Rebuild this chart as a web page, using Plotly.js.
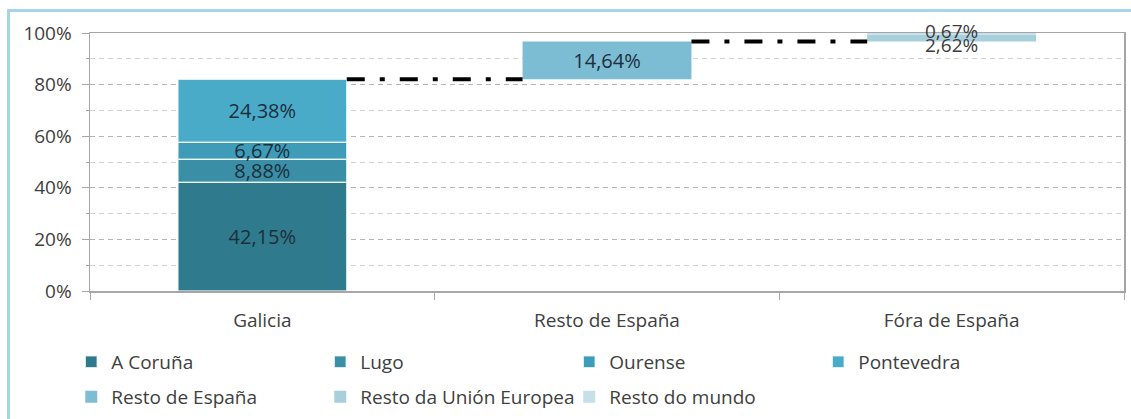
<!DOCTYPE html>
<html>
<head>
<meta charset="utf-8">
<script src="https://cdn.plot.ly/plotly-3.0.1.min.js"></script>
<style>
  html, body { margin: 0; padding: 0; background: #ffffff; }
  #frame { position: absolute; left: 7px; top: 9px; width: 1300px; height: 600px;
           border: 3px solid #a6d6e6; box-sizing: border-box; }
  #chart { position: absolute; left: 0; top: 0; width: 1131px; height: 419px; }
</style>
</head>
<body>
<div id="frame"></div>
<div id="chart"></div>
<script>
// ---- data ----
const categories = ['Galicia', 'Resto de España', 'Fóra de España'];
const seriesNames = ['A Coruña', 'Lugo', 'Ourense', 'Pontevedra',
                     'Resto de España', 'Resto da Unión Europea', 'Resto do mundo'];
const aCoruna      = [42.15, null, null];
const lugo         = [8.88, null, null];
const ourense      = [6.67, null, null];
const pontevedra   = [24.38, null, null];
const restoEspana  = [null, 14.64, null];
const restoUE      = [null, null, 2.62];
const restoMundo   = [null, null, 0.67];
const seriesValues = [aCoruna, lugo, ourense, pontevedra, restoEspana, restoUE, restoMundo];
const yTickVals = [0, 20, 40, 60, 80, 100];
const yTickText = ['0%', '20%', '40%', '60%', '80%', '100%'];

// ---- style ----
const colors = ['#2f7a8c', '#3a8ea6', '#3f9cb8', '#4aabc9', '#7dbdd3', '#a7cfdc', '#c6dfe8'];
const FONT = '"Open Sans", "Noto Sans", sans-serif';
const BAR_W = 0.49;
const fmt = v => v.toFixed(2).replace('.', ',') + '%';

// running bases (waterfall)
let running = 0;
const traces = [];
const annotations = [];
const catTotals = [];   // cumulative top after each category
seriesValues.forEach((vals, i) => {
  const base = vals.map(v => v == null ? null : running);
  const txt = vals.map(v => v == null ? '' : fmt(v));
  const small = i >= 5;
  traces.push({
    type: 'bar',
    name: seriesNames[i],
    x: categories,
    y: vals,
    base: base,
    width: BAR_W,
    marker: { color: colors[i], line: { color: 'rgba(255,255,255,0.75)', width: i < 4 ? 1.5 : 0 } },
    text: small ? undefined : txt,
    textposition: small ? 'none' : 'inside',
    insidetextanchor: 'middle',
    constraintext: 'none',
    cliponaxis: false,
    textfont: { family: FONT, size: 20, color: '#1c2f3c' },
    hoverinfo: 'name+y',
    legend: i < 4 ? 'legend' : 'legend2'
  });
  vals.forEach((v, c) => {
    if (v == null) return;
    if (small) {
      annotations.push({
        x: categories[c], y: running + v / 2, xref: 'x', yref: 'y',
        text: fmt(v), showarrow: false,
        yshift: i === 5 ? -7 : 3,
        font: { family: FONT, size: 19, color: '#3c3c3c' }
      });
    }
    running += v;
    catTotals[c] = running;
  });
});

// connector lines between category tops
const shapes = [];
for (let c = 0; c < categories.length - 1; c++) {
  shapes.push({
    type: 'line', xref: 'x', yref: 'y',
    x0: c + BAR_W / 2, x1: c + 1 - BAR_W / 2,
    y0: catTotals[c], y1: catTotals[c],
    line: { color: '#000000', width: 4, dash: '18px,15px,5px,15px' }
  });
}

const layout = {
  width: 1131, height: 419,
  margin: { l: 90, r: 7, t: 33, b: 128 },
  paper_bgcolor: 'rgba(0,0,0,0)',
  plot_bgcolor: 'rgba(0,0,0,0)',
  barmode: 'overlay',
  font: { family: FONT, size: 19, color: '#404040' },
  showlegend: true,
  xaxis: {
    type: 'category',
    showline: true, mirror: true, linecolor: '#a6a6a6', linewidth: 1.5,
    ticks: 'outside', tickson: 'boundaries', ticklen: 7, tickcolor: '#a6a6a6',
    ticklabelstandoff: 12,
    showgrid: false, zeroline: false,
    tickfont: { family: FONT, size: 19, color: '#404040' },
    fixedrange: true
  },
  yaxis: {
    range: [0, 100],
    tickvals: yTickVals, ticktext: yTickText,
    showline: true, mirror: true, linecolor: '#a6a6a6', linewidth: 1.5,
    ticks: 'outside', ticklen: 7, tickcolor: '#a6a6a6',
    ticklabelstandoff: 6,
    showgrid: true, gridcolor: '#b4b4b4', griddash: '5px,4px', gridwidth: 1,
    minor: { dtick: 10, showgrid: true, gridcolor: '#d2d2d2', griddash: '5px,4px',
             ticks: 'outside', ticklen: 3, tickcolor: '#a6a6a6' },
    zeroline: false,
    tickfont: { family: FONT, size: 19, color: '#404040' },
    fixedrange: true
  },
  legend: {
    orientation: 'h', xref: 'container', yref: 'container',
    x: 0.063, y: 1 - 362 / 419, xanchor: 'left', yanchor: 'middle',
    entrywidth: 204, traceorder: 'normal',
    font: { family: FONT, size: 19, color: '#404040' },
    bgcolor: 'rgba(0,0,0,0)'
  },
  legend2: {
    orientation: 'h', xref: 'container', yref: 'container',
    x: 0.063, y: 1 - 397 / 419, xanchor: 'left', yanchor: 'middle',
    entrywidth: 204, traceorder: 'normal',
    font: { family: FONT, size: 19, color: '#404040' },
    bgcolor: 'rgba(0,0,0,0)'
  },
  shapes: shapes,
  annotations: annotations
};

Plotly.newPlot('chart', traces, layout, { displayModeBar: false, staticPlot: true });
</script>
</body>
</html>
